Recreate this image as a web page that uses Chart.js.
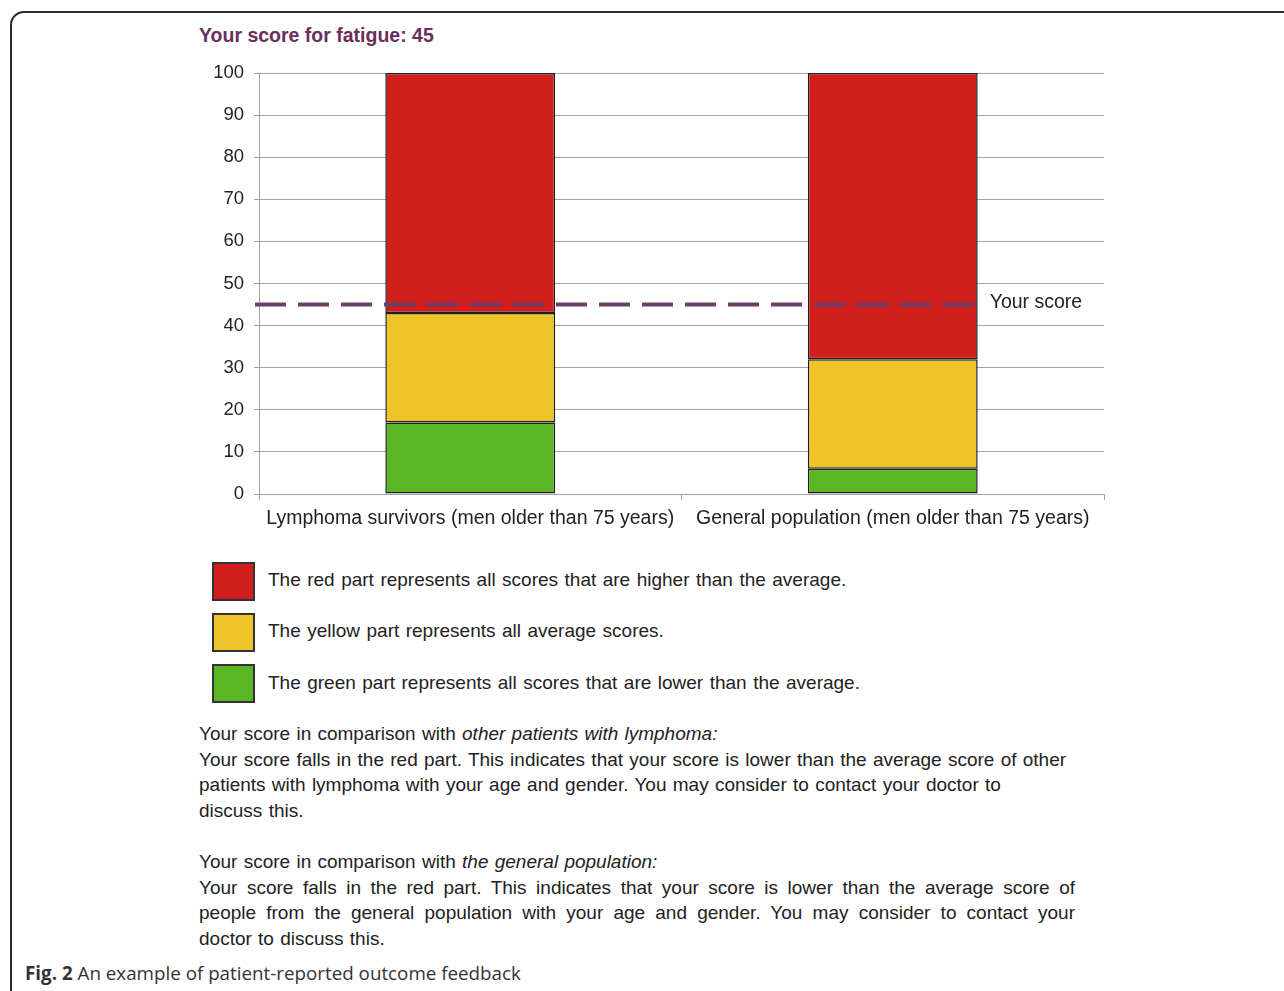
<!DOCTYPE html>
<html>
<head>
<meta charset="utf-8">
<script src="https://cdn.jsdelivr.net/npm/chart.js@4.4.1/dist/chart.umd.min.js"></script>
<style>
  body { margin: 0; background: #fff; width: 1284px; height: 991px; overflow: hidden; position: relative; font-family: "Liberation Sans", Arial, sans-serif; color: #222; }
  .frame { position: absolute; left: 10px; top: 11px; width: 1300px; height: 1000px; border: 2px solid #2a2a2a; border-radius: 14px; }
  .title { position: absolute; left: 199px; top: 24px; font-size: 19.5px; font-weight: bold; color: #6b2d5c; }
  .chart-box { position: absolute; left: 0; top: 0; }
  .key { position: absolute; left: 212px; width: 39px; height: 35px; border: 2px solid #333; }
  .key-text { position: absolute; left: 268px; font-size: 19px; line-height: 22px; word-spacing: 1.2px; }
  .block { position: absolute; left: 199px; font-size: 19px; line-height: 25.5px; white-space: nowrap; word-spacing: 1px; }
  .just { width: 876px; text-align: justify; text-align-last: justify; }
  .caption { position: absolute; left: 25px; top: 960px; font-family: "Open Sans", sans-serif; font-size: 18.8px; color: #333; }
</style>
</head>
<body>
<div class="frame"></div>
<div class="title">Your score for fatigue: 45</div>
<div class="chart-box"><canvas id="scoreChart" width="1284" height="540"></canvas></div>

<div class="key" style="top:562px;background:#d11f1e"></div>
<div class="key-text" style="top:569px">The red part represents all scores that are higher than the average.</div>
<div class="key" style="top:613px;background:#eec528"></div>
<div class="key-text" style="top:620px">The yellow part represents all average scores.</div>
<div class="key" style="top:664px;background:#5bb624"></div>
<div class="key-text" style="top:672px">The green part represents all scores that are lower than the average.</div>

<div class="block" style="top:721px">
  <div>Your score in comparison with <i>other patients with lymphoma:</i></div>
  <div>Your score falls in the red part. This indicates that your score is lower than the average score of other</div>
  <div>patients with lymphoma with your age and gender. You may consider to contact your doctor to</div>
  <div>discuss this.</div>
</div>

<div class="block" style="top:849px">
  <div>Your score in comparison with <i>the general population:</i></div>
  <div class="just">Your score falls in the red part. This indicates that your score is lower than the average score of</div>
  <div class="just">people from the general population with your age and gender. You may consider to contact your</div>
  <div>doctor to discuss this.</div>
</div>

<div class="caption"><b>Fig. 2</b> An example of patient-reported outcome feedback</div>

<script>
// Chart data
const groups = ['Lymphoma survivors (men older than 75 years)', 'General population (men older than 75 years)'];
const greenPart = [17, 6];
const yellowPart = [26, 26];
const redPart = [57, 68];
const yourScore = 45;
const yTicks = [0, 10, 20, 30, 40, 50, 60, 70, 80, 90, 100];

const fontFamily = '"Liberation Sans", Arial, sans-serif';
const gridColor = '#a3a3a3';

// Dashed "Your score" line, drawn on top of the bars
const scoreLine = {
    id: 'scoreLine',
    afterDatasetsDraw(chart) {
        const { ctx, chartArea, scales } = chart;
        const y = scales.y.getPixelForValue(yourScore);
        const meta = chart.getDatasetMeta(0);
        const lastBar = meta.data[meta.data.length - 1];
        const endX = lastBar.x + lastBar.width / 2 + 4;
        ctx.save();
        ctx.strokeStyle = '#6b3f66';
        ctx.lineWidth = 4;
        ctx.setLineDash([31, 12]);
        ctx.beginPath();
        ctx.moveTo(chartArea.left - 4, y);
        ctx.lineTo(endX, y);
        ctx.stroke();
        ctx.setLineDash([]);
        ctx.fillStyle = '#222';
        ctx.font = '19.5px ' + fontFamily;
        ctx.textBaseline = 'middle';
        ctx.fillText('Your score', endX + 8, y - 2);
        ctx.restore();
    }
};

const barStyle = {
    borderColor: '#1e1e1e',
    borderWidth: 1.5,
    borderSkipped: false,
    barPercentage: 0.402,
    categoryPercentage: 1
};

new Chart(document.getElementById('scoreChart').getContext('2d'), {
    type: 'bar',
    data: {
        labels: groups,
        datasets: [
            { label: 'Lower than average', data: greenPart, backgroundColor: '#5bb624', ...barStyle },
            { label: 'Average', data: yellowPart, backgroundColor: '#eec528', ...barStyle },
            { label: 'Higher than average', data: redPart, backgroundColor: '#d11f1e', ...barStyle }
        ]
    },
    options: {
        responsive: false,
        animation: false,
        layout: { padding: { left: 199, right: 180, top: 73, bottom: 0 } },
        plugins: {
            legend: { display: false },
            tooltip: { enabled: false }
        },
        scales: {
            x: {
                stacked: true,
                grid: { offset: true, drawOnChartArea: false, color: gridColor, tickLength: 6 },
                border: { color: gridColor },
                ticks: { color: '#222', font: { family: fontFamily, size: 19.5 }, padding: 7, maxRotation: 0, autoSkip: false },
                afterFit: s => { s.height = 46; }
            },
            y: {
                stacked: true,
                min: 0,
                max: 100,
                afterBuildTicks: s => { s.ticks = yTicks.map(v => ({ value: v })); },
                grid: { color: gridColor, tickLength: 5 },
                border: { color: gridColor },
                ticks: { color: '#222', font: { family: fontFamily, size: 18.5 }, padding: 10 },
                afterFit: s => { s.width = 60; }
            }
        }
    },
    plugins: [scoreLine]
});
</script>
</body>
</html>
